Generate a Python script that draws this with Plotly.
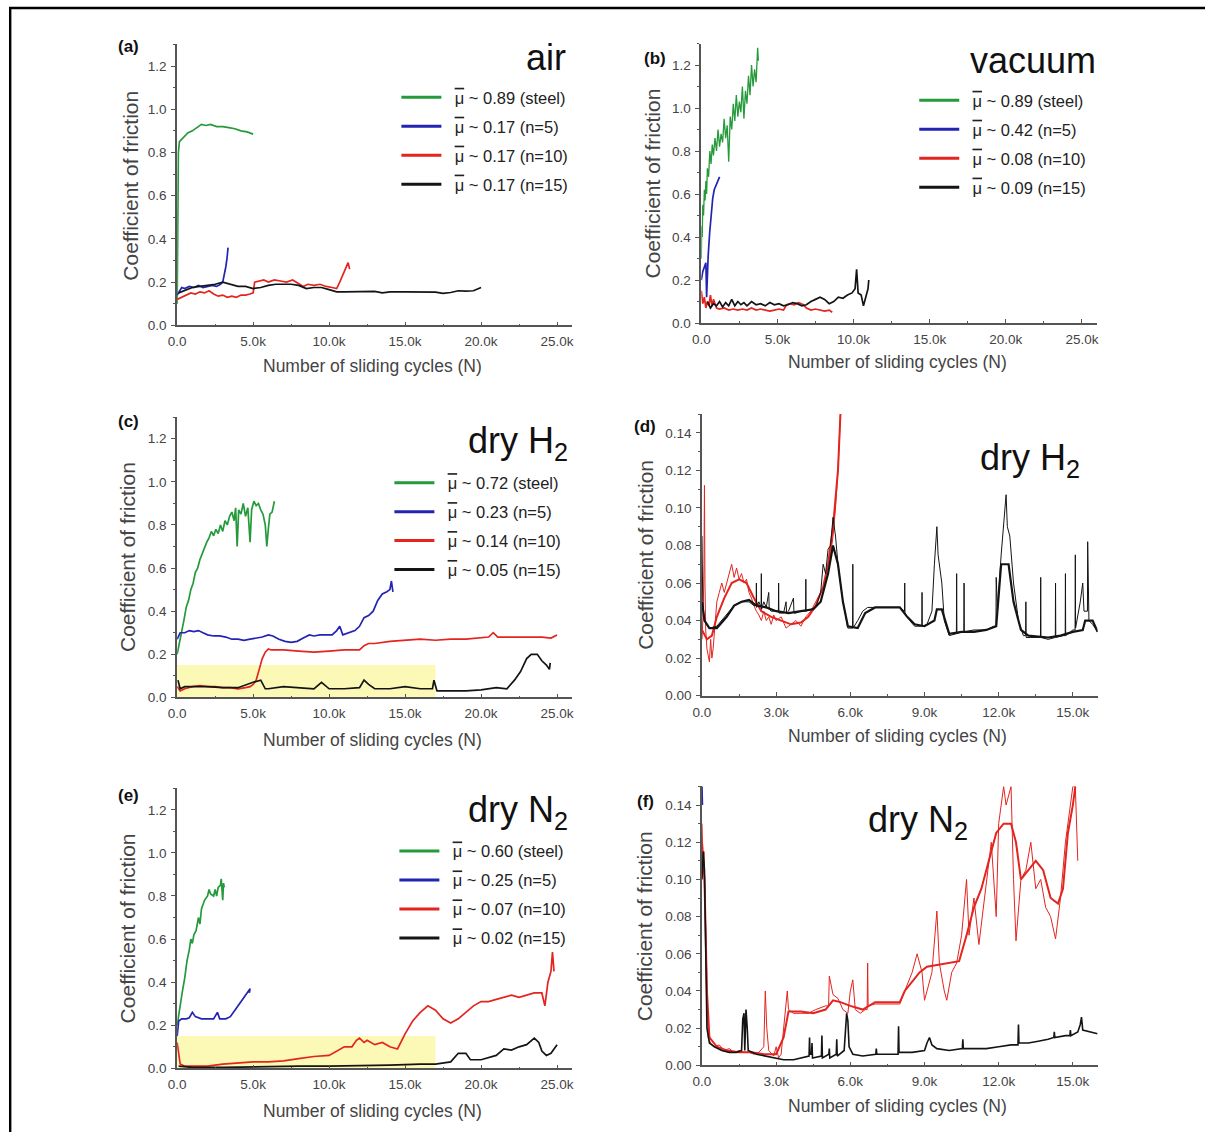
import plotly.graph_objects as go

W, H = 1206, 1140

GREEN = "#249a3a"
BLUE = "#2323b4"
RED = "#e3241f"
BLACK = "#141414"
MU = "<span style='text-decoration:overline'>\u03bc</span>"

# ---------------- data: (cycles, coefficient of friction) ----------------
# (a) air
a_steel = [(0, 0.10), (20, 0.35), (50, 0.62), (80, 0.80), (150, 0.85), (300, 0.86), (500, 0.875), (700, 0.89),
           (1000, 0.90), (1300, 0.915), (1600, 0.93), (1900, 0.925), (2200, 0.93), (2600, 0.92), (3000, 0.92),
           (3400, 0.915), (3800, 0.91), (4200, 0.90), (4600, 0.895), (5000, 0.885)]
a_n5 = [(0, 0.14), (150, 0.16), (300, 0.175), (500, 0.17), (800, 0.18), (1100, 0.175), (1400, 0.185), (1700, 0.175),
        (2000, 0.18), (2300, 0.185), (2600, 0.18), (2850, 0.19), (3000, 0.20), (3100, 0.23), (3200, 0.27),
        (3280, 0.31), (3350, 0.36)]
a_n10 = [(0, 0.12), (300, 0.13), (600, 0.14), (900, 0.15), (1200, 0.145), (1500, 0.155), (1800, 0.15), (2100, 0.16),
         (2400, 0.145), (2700, 0.135), (3000, 0.14), (3300, 0.13), (3600, 0.135), (3900, 0.13), (4200, 0.14),
         (4500, 0.14), (4800, 0.145), (5000, 0.15), (5100, 0.20), (5400, 0.205), (5700, 0.21), (6000, 0.20),
         (6400, 0.21), (6800, 0.205), (7200, 0.20), (7600, 0.21), (8000, 0.195), (8300, 0.18), (8600, 0.19),
         (9000, 0.185), (9400, 0.19), (9800, 0.18), (10200, 0.175), (10500, 0.17), (10700, 0.20), (10900, 0.23),
         (11100, 0.26), (11250, 0.29), (11350, 0.26)]
a_n15 = [(100, 0.15), (500, 0.16), (1000, 0.175), (1500, 0.18), (2000, 0.185), (2500, 0.19), (3000, 0.20),
         (3500, 0.19), (4000, 0.18), (4500, 0.18), (5000, 0.17), (5500, 0.175), (6000, 0.185), (6500, 0.19),
         (7000, 0.19), (7500, 0.19), (8000, 0.185), (8500, 0.17), (9000, 0.175), (9500, 0.175), (10000, 0.165),
         (10500, 0.155), (11000, 0.155), (12000, 0.155), (13000, 0.157), (13500, 0.15), (14000, 0.155),
         (15000, 0.155), (16000, 0.155), (17000, 0.154), (17500, 0.148), (18000, 0.152), (18500, 0.16),
         (19000, 0.158), (19500, 0.16), (19900, 0.17), (20000, 0.175)]

# (b) vacuum
b_steel = [(0, 0.30), (30, 0.45), (60, 0.40), (100, 0.55), (150, 0.50), (200, 0.62), (250, 0.57), (300, 0.66),
           (350, 0.60), (400, 0.72), (480, 0.68), (560, 0.80), (640, 0.74), (720, 0.83), (800, 0.78), (900, 0.86),
           (1000, 0.80), (1100, 0.90), (1200, 0.82), (1300, 0.88), (1400, 0.84), (1500, 0.95), (1600, 0.86),
           (1700, 0.92), (1800, 0.75), (1900, 0.96), (2000, 0.90), (2100, 1.02), (2200, 0.94), (2300, 1.06),
           (2400, 0.96), (2500, 1.03), (2600, 0.98), (2700, 1.10), (2800, 0.95), (2900, 1.08), (3000, 1.02),
           (3100, 1.15), (3200, 1.06), (3300, 1.20), (3400, 1.10), (3500, 1.18), (3600, 1.12), (3700, 1.28),
           (3750, 1.22)]
b_n5 = [(0, 0.20), (100, 0.24), (200, 0.26), (300, 0.28), (350, 0.12), (400, 0.27), (450, 0.31), (550, 0.42),
        (650, 0.52), (750, 0.58), (850, 0.62), (950, 0.64), (1050, 0.66), (1150, 0.67), (1200, 0.68)]
b_n10 = [(0, 0.15), (100, 0.09), (200, 0.12), (300, 0.07), (400, 0.10), (500, 0.08), (600, 0.13), (700, 0.08),
         (800, 0.11), (1000, 0.07), (1200, 0.065), (1500, 0.07), (1800, 0.06), (2100, 0.065), (2400, 0.06),
         (2700, 0.065), (3000, 0.06), (3300, 0.07), (3600, 0.06), (3900, 0.065), (4200, 0.06), (4500, 0.055),
         (4800, 0.06), (5100, 0.065), (5400, 0.06), (5600, 0.085), (5800, 0.09), (6100, 0.085), (6400, 0.095),
         (6700, 0.085), (6900, 0.07), (7200, 0.06), (7500, 0.065), (7800, 0.06), (8100, 0.055), (8400, 0.06),
         (8600, 0.05)]
b_n15 = [(400, 0.10), (600, 0.07), (800, 0.09), (1000, 0.08), (1200, 0.10), (1400, 0.075), (1600, 0.095),
         (1800, 0.08), (2000, 0.11), (2200, 0.08), (2400, 0.10), (2600, 0.085), (2800, 0.095), (3000, 0.08),
         (3300, 0.10), (3600, 0.085), (3900, 0.09), (4200, 0.08), (4500, 0.095), (4800, 0.085), (5100, 0.09),
         (5400, 0.08), (5700, 0.085), (6000, 0.095), (6300, 0.09), (6600, 0.08), (6900, 0.085), (7200, 0.10),
         (7500, 0.11), (7800, 0.12), (8100, 0.11), (8400, 0.09), (8700, 0.10), (9000, 0.12), (9300, 0.115),
         (9600, 0.13), (9900, 0.14), (10100, 0.16), (10200, 0.25), (10300, 0.14), (10500, 0.13), (10650, 0.08),
         (10800, 0.12), (10950, 0.16), (11000, 0.20)]

# (c) dry H2
c_steel = [(0, 0.20), (150, 0.25), (300, 0.30), (450, 0.36), (600, 0.42), (750, 0.45), (900, 0.50), (1050, 0.53),
           (1200, 0.58), (1350, 0.60), (1500, 0.64), (1650, 0.67), (1800, 0.70), (1950, 0.72), (2100, 0.74),
           (2250, 0.77), (2400, 0.75), (2550, 0.78), (2700, 0.76), (2850, 0.80), (3000, 0.77), (3150, 0.82),
           (3300, 0.80), (3450, 0.84), (3600, 0.86), (3750, 0.82), (3850, 0.88), (3950, 0.70), (4050, 0.87),
           (4200, 0.85), (4350, 0.90), (4500, 0.84), (4650, 0.88), (4800, 0.72), (4900, 0.87), (5050, 0.91),
           (5200, 0.89), (5350, 0.90), (5500, 0.87), (5650, 0.85), (5800, 0.80), (5900, 0.70), (6000, 0.78),
           (6100, 0.85), (6250, 0.86), (6400, 0.91)]
c_n5 = [(0, 0.27), (200, 0.30), (500, 0.30), (800, 0.31), (1100, 0.305), (1400, 0.31), (1700, 0.30), (2000, 0.29),
        (2400, 0.285), (2800, 0.285), (3200, 0.28), (3600, 0.27), (4000, 0.27), (4400, 0.265), (4800, 0.27),
        (5200, 0.275), (5600, 0.28), (6000, 0.29), (6300, 0.285), (6700, 0.27), (7100, 0.26), (7500, 0.255),
        (7900, 0.26), (8300, 0.275), (8700, 0.29), (9000, 0.285), (9400, 0.29), (9800, 0.29), (10200, 0.29),
        (10500, 0.31), (10700, 0.33), (10900, 0.29), (11300, 0.30), (11700, 0.31), (12000, 0.33), (12300, 0.37),
        (12600, 0.38), (12900, 0.40), (13200, 0.45), (13500, 0.48), (13800, 0.49), (14000, 0.50), (14100, 0.54),
        (14200, 0.49)]
c_n10 = [(0, 0.05), (200, 0.03), (500, 0.04), (1000, 0.05), (1500, 0.055), (2000, 0.05), (2500, 0.05), (3000, 0.045),
         (3500, 0.045), (4000, 0.04), (4500, 0.045), (4800, 0.05), (5000, 0.06), (5200, 0.08), (5400, 0.13),
         (5600, 0.18), (5800, 0.21), (6000, 0.225), (6200, 0.22), (7000, 0.22), (8000, 0.215), (9000, 0.21),
         (10000, 0.215), (11000, 0.22), (12000, 0.22), (12300, 0.24), (12600, 0.25), (13000, 0.25), (14000, 0.26),
         (15000, 0.265), (16000, 0.27), (17000, 0.265), (18000, 0.27), (19000, 0.27), (20000, 0.275), (20500, 0.28),
         (20800, 0.30), (21100, 0.28), (22000, 0.28), (23000, 0.28), (24000, 0.28), (24600, 0.275), (25000, 0.29)]
c_n15 = [(50, 0.08), (200, 0.04), (500, 0.05), (1000, 0.05), (2000, 0.05), (3000, 0.045), (4000, 0.045),
         (5000, 0.07), (5500, 0.08), (5800, 0.04), (6000, 0.04), (7000, 0.05), (8000, 0.045), (9000, 0.04),
         (9500, 0.07), (9800, 0.05), (10000, 0.04), (11000, 0.04), (12000, 0.045), (12300, 0.08), (12600, 0.06),
         (13000, 0.04), (14000, 0.04), (15000, 0.05), (16000, 0.04), (16800, 0.04), (16900, 0.08), (17100, 0.03),
         (18000, 0.03), (19000, 0.03), (20000, 0.035), (20500, 0.04), (21000, 0.045), (21700, 0.04), (22200, 0.08),
         (22600, 0.12), (23000, 0.18), (23300, 0.20), (23700, 0.20), (24000, 0.17), (24300, 0.15), (24500, 0.13),
         (24550, 0.16)]

# (d) dry H2, zoom
d_red_raw = [(0, 0.030), (50, 0.045), (80, 0.070), (100, 0.112), (120, 0.060), (150, 0.035), (200, 0.025),
             (250, 0.020), (300, 0.018), (350, 0.030), (400, 0.020), (450, 0.025), (500, 0.035), (600, 0.050),
             (700, 0.055), (800, 0.060), (900, 0.055), (1000, 0.060), (1100, 0.065), (1200, 0.070), (1300, 0.063),
             (1400, 0.068), (1500, 0.062), (1600, 0.065), (1700, 0.060), (1800, 0.062), (1900, 0.055), (2000, 0.052),
             (2100, 0.048), (2200, 0.045), (2300, 0.043), (2400, 0.040), (2500, 0.045), (2600, 0.040), (2700, 0.042),
             (2800, 0.038), (2900, 0.043), (3000, 0.040), (3200, 0.042), (3400, 0.036), (3600, 0.038), (3800, 0.040),
             (4000, 0.037), (4200, 0.042), (4400, 0.045), (4600, 0.050), (4800, 0.055), (5000, 0.060), (5100, 0.065),
             (5200, 0.075), (5300, 0.085), (5400, 0.100), (5500, 0.120), (5600, 0.150)]
d_red_smooth = [(0, 0.035), (200, 0.030), (400, 0.032), (600, 0.042), (900, 0.052), (1200, 0.060), (1500, 0.062),
                (1800, 0.060), (2100, 0.052), (2400, 0.045), (2800, 0.042), (3200, 0.040), (3600, 0.038),
                (4000, 0.039), (4300, 0.042), (4600, 0.048), (4900, 0.058), (5100, 0.070), (5300, 0.090),
                (5500, 0.120), (5600, 0.150)]
d_black_raw = [(0, 0.085), (30, 0.050), (100, 0.040), (300, 0.036), (600, 0.037), (1000, 0.043), (1300, 0.048),
               (1600, 0.050), (1900, 0.050), (2100, 0.048), (2190, 0.048), (2200, 0.060), (2210, 0.047),
               (2300, 0.050), (2390, 0.047), (2400, 0.065), (2410, 0.046), (2500, 0.050), (2600, 0.047),
               (2700, 0.055), (2720, 0.046), (2800, 0.045), (3000, 0.045), (3090, 0.045), (3100, 0.060),
               (3110, 0.044), (3300, 0.044), (3400, 0.050), (3420, 0.044), (3500, 0.045), (3700, 0.052),
               (3720, 0.044), (3800, 0.044), (4000, 0.045), (4190, 0.045), (4200, 0.062), (4210, 0.045),
               (4400, 0.046), (4600, 0.047), (4800, 0.055), (4900, 0.070), (5000, 0.065), (5100, 0.078),
               (5200, 0.080), (5300, 0.095), (5400, 0.085), (5500, 0.070), (5700, 0.050), (5900, 0.036),
               (6090, 0.036), (6100, 0.070), (6110, 0.036), (6300, 0.040), (6500, 0.045), (6700, 0.047),
               (7000, 0.047), (7500, 0.047), (8000, 0.047), (8190, 0.045), (8200, 0.060), (8210, 0.044),
               (8400, 0.040), (8600, 0.037), (8890, 0.037), (8900, 0.055), (8910, 0.037), (9100, 0.038),
               (9300, 0.045), (9400, 0.070), (9500, 0.090), (9550, 0.075), (9700, 0.060), (9800, 0.040),
               (10000, 0.032), (10290, 0.033), (10300, 0.065), (10310, 0.033), (10500, 0.034), (10590, 0.034),
               (10600, 0.060), (10610, 0.034), (11000, 0.035), (11500, 0.035), (11800, 0.037), (11890, 0.037),
               (11900, 0.063), (11950, 0.045), (12100, 0.075), (12200, 0.090), (12300, 0.107), (12350, 0.090),
               (12450, 0.085), (12600, 0.060), (12800, 0.040), (13000, 0.032), (13090, 0.032), (13100, 0.050),
               (13110, 0.031), (13300, 0.031), (13690, 0.031), (13700, 0.063), (13710, 0.031), (14000, 0.030),
               (14290, 0.031), (14300, 0.060), (14310, 0.031), (14600, 0.032), (14690, 0.032), (14700, 0.065),
               (14710, 0.032), (15000, 0.035), (15090, 0.035), (15100, 0.075), (15110, 0.036), (15300, 0.050),
               (15400, 0.060), (15450, 0.045), (15590, 0.045), (15600, 0.082), (15650, 0.040), (15800, 0.038),
               (16000, 0.034)]
d_black_smooth = [(0, 0.050), (100, 0.040), (300, 0.036), (600, 0.036), (1000, 0.042), (1300, 0.048), (1600, 0.050),
                  (1900, 0.051), (2200, 0.048), (2600, 0.047), (3000, 0.045), (3500, 0.044), (4000, 0.045),
                  (4500, 0.046), (4800, 0.050), (5100, 0.065), (5300, 0.080), (5500, 0.070), (5700, 0.050),
                  (5900, 0.037), (6300, 0.036), (6600, 0.044), (7000, 0.047), (7500, 0.047), (8000, 0.047),
                  (8300, 0.042), (8600, 0.038), (9000, 0.037), (9400, 0.040), (9500, 0.046), (9700, 0.046),
                  (10000, 0.033), (10500, 0.034), (11000, 0.034), (11500, 0.035), (11900, 0.037), (12100, 0.070),
                  (12400, 0.070), (12600, 0.050), (12900, 0.035), (13200, 0.032), (14000, 0.031), (14500, 0.032),
                  (15000, 0.034), (15400, 0.035), (15500, 0.040), (15800, 0.040), (16000, 0.034)]

# (e) dry N2
e_steel = [(0, 0.20), (200, 0.30), (350, 0.36), (500, 0.42), (650, 0.50), (800, 0.55), (900, 0.60), (1000, 0.58),
           (1100, 0.62), (1250, 0.64), (1400, 0.70), (1500, 0.67), (1600, 0.74), (1800, 0.78), (2000, 0.80),
           (2100, 0.83), (2200, 0.81), (2400, 0.80), (2500, 0.83), (2600, 0.80), (2700, 0.84), (2850, 0.85),
           (2900, 0.88), (3000, 0.78), (3050, 0.86), (3100, 0.84)]
e_n5 = [(0, 0.15), (100, 0.22), (300, 0.23), (600, 0.23), (800, 0.235), (1000, 0.26), (1200, 0.24), (1600, 0.23),
        (2000, 0.23), (2400, 0.23), (2650, 0.26), (2800, 0.23), (3200, 0.23), (3500, 0.24), (3800, 0.27),
        (4100, 0.30), (4400, 0.33), (4600, 0.35), (4800, 0.37), (4750, 0.35)]
e_n10 = [(0, 0.12), (100, 0.08), (200, 0.02), (500, 0.01), (1000, 0.01), (2000, 0.01), (3000, 0.02), (4000, 0.025),
         (5000, 0.03), (6000, 0.03), (7000, 0.035), (8000, 0.045), (9000, 0.055), (10000, 0.06), (10500, 0.08),
         (11000, 0.10), (11500, 0.10), (11800, 0.13), (12000, 0.14), (12300, 0.12), (12500, 0.13), (13000, 0.11),
         (13500, 0.12), (14000, 0.10), (14500, 0.09), (15000, 0.16), (15500, 0.22), (16000, 0.26), (16500, 0.29),
         (17000, 0.27), (17500, 0.23), (18000, 0.21), (18500, 0.23), (19000, 0.26), (19500, 0.29), (20000, 0.31),
         (20500, 0.31), (21000, 0.32), (21500, 0.33), (22000, 0.34), (22500, 0.33), (23000, 0.34), (23500, 0.35),
         (24000, 0.35), (24200, 0.29), (24400, 0.40), (24600, 0.45), (24700, 0.54), (24800, 0.45)]
e_n15 = [(100, 0.01), (1000, 0.005), (3000, 0.005), (5000, 0.008), (8000, 0.01), (10000, 0.01), (12000, 0.012),
         (14000, 0.015), (16000, 0.02), (17000, 0.02), (18000, 0.03), (18500, 0.07), (19000, 0.07), (19300, 0.04),
         (20000, 0.04), (20500, 0.05), (21000, 0.06), (21500, 0.09), (22000, 0.085), (22500, 0.10), (23000, 0.11),
         (23500, 0.14), (23800, 0.12), (24000, 0.08), (24300, 0.06), (24600, 0.07), (25000, 0.11)]

# (f) dry N2, zoom
f_red_raw = [(0, 0.13), (40, 0.11), (80, 0.115), (120, 0.09), (160, 0.06), (200, 0.03), (250, 0.015), (350, 0.012),
             (500, 0.010), (700, 0.011), (900, 0.008), (1100, 0.009), (1300, 0.007), (1500, 0.008), (1700, 0.007),
             (1900, 0.007), (2100, 0.006), (2300, 0.007), (2500, 0.010), (2560, 0.040), (2620, 0.020), (2700, 0.008),
             (2900, 0.005), (3000, 0.010), (3100, 0.004), (3200, 0.006), (3300, 0.020), (3400, 0.030), (3450, 0.040),
             (3500, 0.030), (3700, 0.028), (4000, 0.028), (4300, 0.028), (4600, 0.030), (5000, 0.032), (5120, 0.032),
             (5150, 0.048), (5300, 0.038), (5500, 0.036), (5700, 0.030), (5900, 0.028), (6000, 0.040), (6100, 0.046),
             (6200, 0.030), (6400, 0.028), (6600, 0.030), (6680, 0.030), (6700, 0.055), (6720, 0.032), (7000, 0.033),
             (7500, 0.033), (8000, 0.033), (8200, 0.040), (8500, 0.050), (8700, 0.060), (8900, 0.050), (9000, 0.035),
             (9300, 0.050), (9500, 0.083), (9600, 0.055), (9800, 0.040), (9900, 0.035), (10100, 0.050),
             (10300, 0.055), (10500, 0.070), (10700, 0.100), (10800, 0.070), (11000, 0.090), (11200, 0.065),
             (11500, 0.100), (11700, 0.120), (11900, 0.080), (12000, 0.130), (12200, 0.150), (12300, 0.140),
             (12500, 0.150), (12600, 0.100), (12700, 0.067), (12900, 0.100), (13100, 0.105), (13300, 0.120),
             (13500, 0.095), (13700, 0.100), (13900, 0.085), (14100, 0.080), (14300, 0.068), (14500, 0.090),
             (14700, 0.120), (14900, 0.140), (15000, 0.150), (15100, 0.150), (15200, 0.110)]
f_red_smooth = [(0, 0.12), (100, 0.10), (200, 0.04), (300, 0.015), (600, 0.010), (1000, 0.008), (1500, 0.007),
                (2000, 0.007), (2500, 0.006), (3000, 0.006), (3300, 0.015), (3500, 0.029), (4000, 0.029),
                (4500, 0.028), (5000, 0.030), (5300, 0.035), (5600, 0.034), (6000, 0.032), (6500, 0.030),
                (7000, 0.034), (7500, 0.034), (8000, 0.034), (8200, 0.040), (8500, 0.045), (8800, 0.050),
                (9100, 0.053), (9500, 0.054), (10000, 0.055), (10400, 0.056), (10700, 0.070), (11000, 0.085),
                (11300, 0.095), (11600, 0.110), (11900, 0.125), (12200, 0.130), (12500, 0.130), (12700, 0.120),
                (12900, 0.100), (13200, 0.105), (13500, 0.110), (13800, 0.105), (14100, 0.090), (14400, 0.087),
                (14600, 0.095), (14800, 0.125), (15000, 0.140), (15100, 0.150)]
f_black = [(0, 0.10), (50, 0.115), (100, 0.105), (150, 0.06), (200, 0.02), (300, 0.012), (500, 0.010), (800, 0.008),
           (1100, 0.007), (1400, 0.007), (1600, 0.008), (1650, 0.025), (1700, 0.028), (1730, 0.008), (1780, 0.030),
           (1830, 0.020), (1870, 0.008), (2200, 0.006), (2600, 0.005), (3000, 0.004), (3300, 0.003), (3700, 0.003),
           (4000, 0.004), (4330, 0.005), (4350, 0.015), (4370, 0.006), (4430, 0.006), (4450, 0.012), (4470, 0.004),
           (4830, 0.005), (4850, 0.016), (4870, 0.004), (5130, 0.006), (5150, 0.009), (5170, 0.004), (5430, 0.006),
           (5450, 0.014), (5470, 0.005), (5750, 0.008), (5800, 0.020), (5850, 0.028), (5900, 0.024), (5950, 0.010),
           (6100, 0.006), (6500, 0.005), (7030, 0.006), (7050, 0.009), (7070, 0.006), (7500, 0.006), (7930, 0.006),
           (7950, 0.021), (7970, 0.007), (8500, 0.007), (9000, 0.008), (9100, 0.012), (9200, 0.015), (9300, 0.011),
           (9500, 0.009), (10000, 0.008), (10530, 0.009), (10550, 0.014), (10570, 0.009), (11000, 0.009),
           (11500, 0.009), (12000, 0.010), (12500, 0.011), (12780, 0.011), (12800, 0.022), (12820, 0.012),
           (13200, 0.012), (13600, 0.013), (14000, 0.014), (14230, 0.015), (14250, 0.018), (14270, 0.015),
           (14700, 0.016), (14880, 0.016), (14900, 0.019), (14920, 0.016), (15200, 0.018), (15300, 0.022),
           (15350, 0.026), (15400, 0.019), (15700, 0.018), (16000, 0.017)]
f_blue = [(0, 0.152), (20, 0.14)]

# legend labels
a_labels = [f"{MU} ~ 0.89 (steel)", f"{MU} ~ 0.17 (n=5)", f"{MU} ~ 0.17 (n=10)", f"{MU} ~ 0.17 (n=15)"]
b_labels = [f"{MU} ~ 0.89 (steel)", f"{MU} ~ 0.42 (n=5)", f"{MU} ~ 0.08 (n=10)", f"{MU} ~ 0.09 (n=15)"]
c_labels = [f"{MU} ~ 0.72 (steel)", f"{MU} ~ 0.23 (n=5)", f"{MU} ~ 0.14 (n=10)", f"{MU} ~ 0.05 (n=15)"]
e_labels = [f"{MU} ~ 0.60 (steel)", f"{MU} ~ 0.25 (n=5)", f"{MU} ~ 0.07 (n=10)", f"{MU} ~ 0.02 (n=15)"]

big_ticks = [0, 5000, 10000, 15000, 20000, 25000]
big_tick_text = ["0.0", "5.0k", "10.0k", "15.0k", "20.0k", "25.0k"]
small_ticks = [0, 3000, 6000, 9000, 12000, 15000]
small_tick_text = ["0.0", "3.0k", "6.0k", "9.0k", "12.0k", "15.0k"]

# ---------------- layout helpers (reference-pixel -> paper, with render offset compensation) ----------------
OFFX, SC = 8.5, 0.992

def PX(x):
    return ((x - OFFX) / SC) / W

def PY(y):
    return 1 - (y / SC) / H

def xdom(l, r):
    return [PX(l), PX(r)]

def ydom(top, bottom):
    return [PY(bottom), PY(top)]

panels = {
    "a": ("x", "y", (176.7, 571.9), (44.4, 325.0), [0, 26000], [0, 1.3], False),
    "b": ("x2", "y2", (701.0, 1097.0), (43.5, 322.7), [0, 26000], [0, 1.3], False),
    "c": ("x3", "y3", (176.7, 571.9), (416.8, 696.7), [0, 26000], [0, 1.3], False),
    "d": ("x4", "y4", (701.7, 1097.4), (413.6, 695.0), [0, 16000], [0, 0.15], True),
    "e": ("x5", "y5", (176.7, 571.9), (787.5, 1067.3), [0, 26000], [0, 1.3], False),
    "f": ("x6", "y6", (701.7, 1097.4), (785.7, 1064.3), [0, 16000], [0, 0.15], True),
}

fig = go.Figure()

def add_line(panel, pts, color, width=1.7):
    xa, ya = panels[panel][0], panels[panel][1]
    fig.add_trace(go.Scatter(
        x=[p[0] for p in pts], y=[p[1] for p in pts], mode="lines",
        line=dict(color=color, width=width),
        xaxis=xa, yaxis=ya, showlegend=False, hoverinfo="skip"))

def add_legend(panel, legend_id, labels):
    xa, ya = panels[panel][0], panels[panel][1]
    for lab, col in zip(labels, [GREEN, BLUE, RED, BLACK]):
        fig.add_trace(go.Scatter(
            x=[None], y=[None], mode="lines", name="\u2002" + lab,
            line=dict(color=col, width=3), xaxis=xa, yaxis=ya,
            legend=legend_id, legendgroup=panel + lab, showlegend=True))

add_line("a", a_steel, GREEN)
add_line("a", a_n5, BLUE)
add_line("a", a_n10, RED)
add_line("a", a_n15, BLACK)
add_legend("a", "legend", a_labels)

add_line("b", b_steel, GREEN, 1.3)
add_line("b", b_n5, BLUE)
add_line("b", b_n10, RED)
add_line("b", b_n15, BLACK)
add_legend("b", "legend2", b_labels)

add_line("c", c_steel, GREEN)
add_line("c", c_n5, BLUE)
add_line("c", c_n10, RED)
add_line("c", c_n15, BLACK)
add_legend("c", "legend3", c_labels)

add_line("d", d_red_raw, RED, 1.0)
add_line("d", d_red_smooth, RED, 2.0)
add_line("d", d_black_raw, BLACK, 1.0)
add_line("d", d_black_smooth, BLACK, 2.2)

add_line("e", e_steel, GREEN)
add_line("e", e_n5, BLUE)
add_line("e", e_n10, RED)
add_line("e", e_n15, BLACK)
add_legend("e", "legend5", e_labels)

add_line("f", f_red_raw, RED, 1.0)
add_line("f", f_red_smooth, RED, 2.0)
add_line("f", f_black, BLACK, 1.6)
add_line("f", f_blue, BLUE, 1.5)

FONT = "Arial, 'Liberation Sans', sans-serif"
TICK_FONT = dict(family=FONT, size=13.5, color="#444")
layout = dict(
    width=W, height=H, margin=dict(l=0, r=0, t=0, b=0),
    paper_bgcolor="white", plot_bgcolor="white",
    font=dict(family=FONT, color="#333"),
)

for name, (xa, ya, xd, yd, xr, yr, zoomed) in panels.items():
    xkey = "xaxis" + xa[1:]
    ykey = "yaxis" + ya[1:]
    layout[xkey] = dict(
        domain=xdom(*xd), range=xr, anchor=ya, showgrid=False, zeroline=False,
        showline=True, linecolor="#555", linewidth=1.6,
        ticks="inside", ticklen=4, tickcolor="#555", tickwidth=1.2,
        tickvals=small_ticks if zoomed else big_ticks,
        ticktext=small_tick_text if zoomed else big_tick_text,
        tickfont=TICK_FONT, ticklabelstandoff=3,
        minor=dict(ticks="inside", ticklen=2, tickcolor="#555",
                   tickvals=[1500, 4500, 7500, 10500, 13500] if zoomed else [2500, 7500, 12500, 17500, 22500]),
    )
    layout[ykey] = dict(
        domain=ydom(*yd), range=yr, anchor=xa, showgrid=False, zeroline=False,
        showline=True, linecolor="#555", linewidth=1.6,
        ticks="outside", ticklen=4, tickcolor="#555", tickwidth=1.2,
        dtick=0.02 if zoomed else 0.2, tickformat=".2f" if zoomed else ".1f",
        tickfont=TICK_FONT, ticklabelstandoff=2,
        minor=dict(ticks="outside", ticklen=2, tickcolor="#555", dtick=0.01 if zoomed else 0.1),
    )

def legend_cfg(left_px, top_px):
    return dict(x=PX(left_px), y=PY(top_px), xanchor="left", yanchor="top",
                font=dict(family=FONT, size=16.5, color="#222"), bgcolor="rgba(0,0,0,0)",
                itemwidth=40, tracegroupgap=4.5, borderwidth=0)

layout["legend"] = legend_cfg(396, 80)
layout["legend2"] = legend_cfg(914, 83)
layout["legend3"] = legend_cfg(389, 465)
layout["legend5"] = legend_cfg(394, 833)

fig.update_layout(**layout)

for xa, ya in [("x3", "y3"), ("x5", "y5")]:
    fig.add_shape(type="rect", xref=xa, yref=ya, x0=0, x1=17000, y0=0, y1=0.15,
                  fillcolor="#fcf8b6", line=dict(width=0), layer="below")

# outer frame (left and top edges)
fig.add_shape(type="line", xref="paper", yref="paper", x0=1.2 / W, x1=1.2 / W, y0=0, y1=PY(8),
              line=dict(color="black", width=2.4))
fig.add_shape(type="line", xref="paper", yref="paper", x0=0, x1=1, y0=PY(8), y1=PY(8),
              line=dict(color="black", width=2.4))

def ann(text, xpx, ypx, size, xanchor="center", yanchor="middle", angle=0, bold=False, color="#333"):
    fig.add_annotation(text=f"<b>{text}</b>" if bold else text, x=PX(xpx), y=PY(ypx),
                       xref="paper", yref="paper", showarrow=False, xanchor=xanchor, yanchor=yanchor,
                       textangle=angle, font=dict(family=FONT, size=size, color=color))

for lab, xpx, ypx in [("(a)", 128, 46), ("(b)", 655, 58), ("(c)", 128, 421), ("(d)", 645, 426),
                      ("(e)", 128, 795), ("(f)", 645, 801)]:
    ann(lab, xpx, ypx, 17, bold=True, color="#111")

ann("air", 568, 57, 36, xanchor="right", color="#111")
ann("vacuum", 1098, 60, 36, xanchor="right", color="#111")
ann("dry H<sub>2</sub>", 570, 443, 36, xanchor="right", color="#111")
ann("dry H<sub>2</sub>", 1082, 460, 36, xanchor="right", color="#111")
ann("dry N<sub>2</sub>", 570, 811, 36, xanchor="right", color="#111")
ann("dry N<sub>2</sub>", 866, 821, 36, xanchor="left", color="#111")

for xpx, ypx in [(372, 366), (897, 362), (372, 739), (897, 735), (372, 1110), (897, 1105)]:
    ann("Number of sliding cycles (N)", xpx, ypx, 17.5, color="#444")
for xpx, ypx in [(130, 185), (652, 183), (127, 556), (645, 554), (127, 927), (645, 925)]:
    ann("Coefficient of friction", xpx, ypx, 21, angle=-90, color="#444")

css_fix = ("document.documentElement.style.margin='0';document.documentElement.style.padding='0';"
           "document.body.style.margin='0';document.body.style.padding='0';"
           "document.body.style.overflow='hidden';")
fig.write_html("out.html", config={"displayModeBar": False}, post_script=css_fix)
